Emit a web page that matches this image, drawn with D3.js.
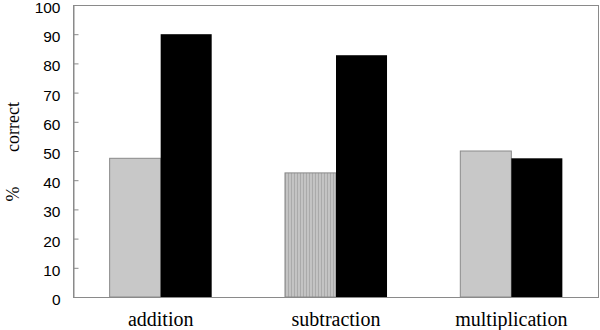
<!DOCTYPE html>
<html>
<head>
<meta charset="utf-8">
<script src="https://cdn.jsdelivr.net/npm/d3@7"></script>
<style>
  html, body { margin: 0; padding: 0; background: #fff; }
  svg { display: block; }
</style>
</head>
<body>
<svg id="chart" width="600" height="330"></svg>
<script>
const categories = ["addition", "subtraction", "multiplication"];
const seriesNames = ["group A", "group B"];
const seriesA = [47.5, 42.5, 50];
const seriesB = [90, 82.8, 47.5];
const yTicks = [0, 10, 20, 30, 40, 50, 60, 70, 80, 90, 100];
const yLabelParts = ["%", "correct"];

const svg = d3.select("#chart");
const mLeft = 73, mRight = 599, mTop = 5, mBottom = 297;

const x = d3.scaleBand().domain(categories).range([mLeft, mRight])
  .paddingInner(0.418).paddingOuter(0.209);
const xs = d3.scaleBand().domain(seriesNames).range([0, x.bandwidth()]).padding(0);
const y = d3.scaleLinear().domain([0, 100]).range([mBottom, mTop]);

// stripe pattern
const defs = svg.append("defs");
const pat = defs.append("pattern").attr("id", "stripes")
  .attr("patternUnits", "userSpaceOnUse").attr("width", 3).attr("height", 10);
pat.append("rect").attr("width", 3).attr("height", 10).attr("fill", "#c4c4c4");
pat.append("rect").attr("width", 1).attr("height", 10).attr("fill", "#a9a9a9");

// frame
svg.append("rect").attr("x", mLeft + 0.5).attr("y", mTop + 0.5)
  .attr("width", mRight - mLeft - 1).attr("height", mBottom - mTop)
  .attr("fill", "none").attr("stroke", "#8a8a8a").attr("stroke-width", 1);

// y axis (ticks inward)
const yAxis = d3.axisRight(y).tickValues(yTicks).tickSize(5).tickFormat(d3.format("d"));
const ya = svg.append("g").attr("transform", `translate(${mLeft + 0.5},0)`).call(yAxis);
ya.select(".domain").attr("stroke", "#8a8a8a");
ya.selectAll(".tick line").attr("stroke", "#8a8a8a");
ya.selectAll(".tick text")
  .attr("x", -13).attr("y", 2).attr("text-anchor", "end").attr("dy", "0.36em")
  .attr("font-family", "'Liberation Sans', Arial, sans-serif")
  .attr("font-size", 15.5).attr("fill", "#000");

// bars
const groups = svg.append("g").selectAll("g").data(categories).join("g")
  .attr("transform", d => `translate(${x(d)},0)`);

groups.append("rect")
  .attr("x", xs("group A"))
  .attr("y", (d, i) => y(seriesA[i]))
  .attr("width", xs.bandwidth())
  .attr("height", (d, i) => y(0) - y(seriesA[i]))
  .attr("fill", d => d === "subtraction" ? "url(#stripes)" : "#c8c8c8")
  .attr("stroke", "#8a8a8a").attr("stroke-width", 1);

groups.append("rect")
  .attr("x", xs("group B"))
  .attr("y", (d, i) => y(seriesB[i]))
  .attr("width", xs.bandwidth())
  .attr("height", (d, i) => y(0) - y(seriesB[i]))
  .attr("fill", "#000");

// bottom axis line
svg.append("line").attr("x1", mLeft).attr("x2", mRight)
  .attr("y1", mBottom + 0.5).attr("y2", mBottom + 0.5).attr("stroke", "#8a8a8a");

// category labels
svg.append("g").selectAll("text").data(categories).join("text")
  .attr("x", d => x(d) + x.bandwidth() / 2)
  .attr("y", 326)
  .attr("text-anchor", "middle")
  .attr("font-family", "'Liberation Serif', 'Times New Roman', serif")
  .attr("font-size", 20).attr("fill", "#000")
  .text(d => d);

// y label (two parts with a wide gap)
svg.append("g").selectAll("text").data(yLabelParts).join("text")
  .attr("transform", d => `translate(19,${d === "%" ? 194 : 127}) rotate(-90)`)
  .attr("text-anchor", "middle")
  .attr("font-family", "'Liberation Serif', 'Times New Roman', serif")
  .attr("font-size", 18).attr("fill", "#000")
  .text(d => d);
</script>
</body>
</html>
